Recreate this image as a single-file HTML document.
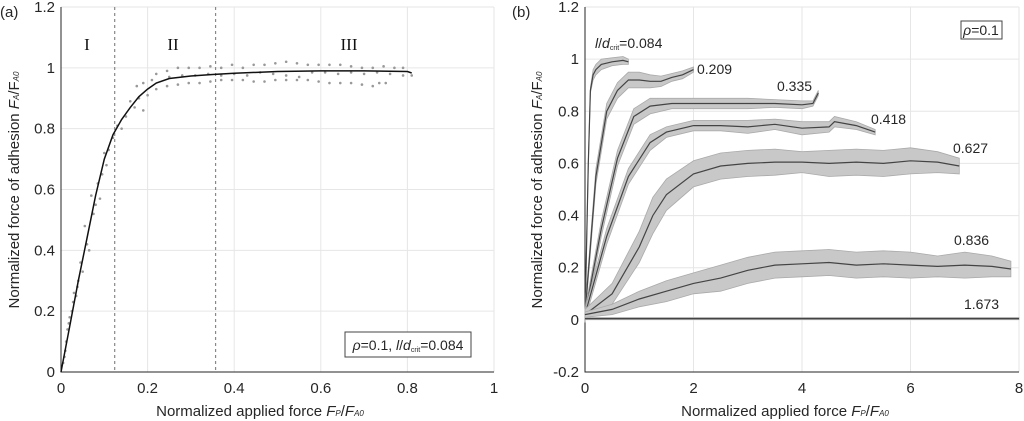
<!DOCTYPE html>
<html><head><meta charset="utf-8"><style>
body{margin:0;background:#fff}
svg{display:block;font-family:"Liberation Sans",sans-serif}
</style></head><body>
<svg id="chart" width="1024" height="421" viewBox="0 0 1024 421" xmlns="http://www.w3.org/2000/svg"></svg>
<script>
// ---- Panel (a) data ----
const aTicksX=[0,0.2,0.4,0.6,0.8,1];
const aTickLabelsX=["0","0.2","0.4","0.6","0.8","1"];
const aTicksY=[0,0.2,0.4,0.6,0.8,1,1.2];
const aTickLabelsY=["0","0.2","0.4","0.6","0.8","1","1.2"];
const aCurveX=[0,0.02,0.04,0.06,0.08,0.1,0.12,0.14,0.16,0.18,0.2,0.22,0.25,0.3,0.35,0.4,0.5,0.6,0.7,0.8,0.81];
const aCurveY=[0,0.15,0.3,0.44,0.58,0.7,0.78,0.83,0.87,0.905,0.93,0.95,0.965,0.973,0.978,0.982,0.988,0.99,0.99,0.988,0.983];
const aRiseX=[0.005,0.01,0.012,0.015,0.02,0.025,0.03,0.035,0.04,0.045,0.05,0.055,0.06,0.065,0.07,0.075,0.08,0.085,0.09,0.095,0.1,0.105,0.11,0.12,0.13,0.14,0.15,0.16,0.17,0.175,0.18,0.19,0.2,0.19,0.21,0.008,0.018,0.028,0.038];
const aRiseY=[0.03,0.07,0.1,0.14,0.18,0.2,0.26,0.25,0.3,0.36,0.33,0.48,0.42,0.4,0.58,0.52,0.55,0.62,0.57,0.65,0.72,0.68,0.73,0.77,0.81,0.8,0.84,0.89,0.87,0.94,0.9,0.95,0.91,0.86,0.96,0.05,0.16,0.23,0.28];
const aUpperX=[0.22,0.245,0.27,0.295,0.32,0.345,0.37,0.395,0.42,0.445,0.47,0.495,0.52,0.545,0.57,0.595,0.62,0.645,0.67,0.695,0.72,0.745,0.77,0.79];
const aUpperY=[0.98,0.99,1.0,1.0,1.0,1.005,1.0,1.01,1.0,1.01,1.01,1.015,1.02,1.015,1.01,1.01,1.01,1.01,1.005,1.0,1.0,1.005,1.0,1.0];
const aLowerX=[0.22,0.245,0.27,0.295,0.32,0.345,0.37,0.395,0.42,0.445,0.47,0.495,0.52,0.545,0.57,0.595,0.62,0.645,0.67,0.695,0.72,0.735,0.75];
const aLowerY=[0.93,0.94,0.945,0.95,0.95,0.955,0.96,0.96,0.96,0.955,0.955,0.96,0.96,0.96,0.96,0.955,0.95,0.95,0.95,0.945,0.94,0.95,0.95];
const aMidX=[0.25,0.28,0.31,0.34,0.37,0.4,0.43,0.46,0.49,0.52,0.55,0.58,0.61,0.64,0.67,0.7,0.73,0.76,0.79,0.81];
const aMidY=[0.97,0.975,0.975,0.98,0.975,0.98,0.975,0.985,0.98,0.975,0.97,0.985,0.985,0.98,0.985,0.98,0.985,0.98,0.975,0.975];
const aRegionX=[0.124,0.357];
// ---- Panel (b) data ----
const bTicksX=[0,2,4,6,8];
const bTickLabelsX=["0","2","4","6","8"];
const bTicksY=[-0.2,0,0.2,0.4,0.6,0.8,1,1.2];
const bTickLabelsY=["-0.2","0","0.2","0.4","0.6","0.8","1","1.2"];
const s084X=[0,0.06,0.1,0.15,0.2,0.3,0.5,0.7,0.8];
const s084Y=[0,0.6,0.88,0.94,0.96,0.98,0.99,0.995,0.99];
const s084W=[.01,.01,.01,.02,.02,.02,.015,.015,.01];
const s209X=[0,0.2,0.4,0.6,0.8,1.0,1.2,1.4,1.6,1.8,2.0];
const s209Y=[.02,.55,.8,.88,.92,.92,.915,.915,.93,.94,.96];
const s209W=[.02,.03,.03,.03,.03,.03,.025,.02,.015,.015,.01];
const s335X=[0,.3,.6,.9,1.2,1.6,2,2.5,3,3.5,4,4.2,4.3];
const s335Y=[.02,.35,.62,.78,.82,.83,.83,.83,.83,.83,.825,.83,.87];
const s335W=[.02,.03,.03,.03,.03,.02,.02,.02,.02,.015,.015,.01,.01];
const s418X=[0,.4,.8,1.2,1.5,2,2.5,3,3.5,4,4.5,4.6,5,5.35];
const s418Y=[.02,.32,.55,.68,.72,.745,.745,.74,.75,.735,.74,.76,.745,.72];
const s418W=[.02,.03,.03,.03,.02,.02,.02,.025,.02,.025,.02,.02,.015,.01];
const s627X=[0,.5,1,1.25,1.5,2,2.5,3,3.5,4,4.5,5,5.5,6,6.5,6.9];
const s627Y=[.02,.1,.28,.4,.48,.56,.59,.6,.605,.605,.6,.605,.6,.61,.605,.59];
const s627W=[.02,.04,.06,.07,.06,.05,.05,.05,.05,.04,.05,.05,.05,.05,.04,.03];
const s836X=[0,.5,1,1.5,2,2.5,3,3.5,4,4.5,5,5.5,6,6.5,7,7.5,7.85];
const s836Y=[.02,.04,.08,.11,.14,.16,.19,.21,.215,.22,.21,.215,.21,.205,.21,.205,.195];
const s836W=[.01,.02,.03,.04,.04,.05,.05,.05,.05,.05,.05,.05,.05,.04,.05,.04,.03];
const s1673X=[0,8];
const s1673Y=[.005,.005];
const s1673W=[.004,.004];
const seriesNames=["0.084","0.209","0.335","0.418","0.627","0.836","1.673"];

const NS="http://www.w3.org/2000/svg";
const svg=document.getElementById('chart');
function mk(tag,attrs,parent,txt){const e=document.createElementNS(NS,tag);for(const k in attrs)e.setAttribute(k,attrs[k]);if(txt!==undefined)e.textContent=txt;(parent||svg).appendChild(e);return e;}
const ax=v=>61+v*433, ay=v=>372-v*(365/1.2);
const bx=v=>585+v*54.25, by=v=>372-(v+0.2)*(365/1.4);

function panel(id,xf,yf,tx,txl,ty,tyl,x0,x1,y0,y1){
  const g=mk('g',{});
  
  
  tx.forEach((t,i)=>{const l=mk('line',{x1:xf(t),x2:xf(t),y1:y0,y2:y1,stroke:'#e6e6e6','stroke-width':1},g);
    
    const tl=mk('text',{x:xf(t),y:y0+21,'font-size':15,'text-anchor':'middle',fill:'#262626'},g,txl[i]);
    });
  ty.forEach((t,i)=>{const l=mk('line',{x1:x0,x2:x1,y1:yf(t),y2:yf(t),stroke:'#e6e6e6','stroke-width':1},g);
    
    const tl=mk('text',{x:x0-6,y:yf(t)+5,'font-size':15,'text-anchor':'end',fill:'#262626'},g,tyl[i]);
    });
  const a=mk('path',{d:`M${x0},${y1}V${y0}H${x1}`,fill:'none',stroke:'#262626','stroke-width':1},g);
  
  return g;
}
const ga=panel('panel-a',ax,ay,aTicksX,aTickLabelsX,aTicksY,aTickLabelsY,61,494,372,7);
const gb=panel('panel-b',bx,by,bTicksX,bTickLabelsX,bTicksY,bTickLabelsY,585,1019,372,7);

aRegionX.forEach(v=>{const l=mk('line',{x1:ax(v),x2:ax(v),y1:7,y2:372,stroke:'#888','stroke-width':1.2,'stroke-dasharray':'3,3'},ga);
  });
[[aRiseX,aRiseY],[aUpperX,aUpperY],[aLowerX,aLowerY],[aMidX,aMidY]].forEach(([X,Y])=>{
  X.forEach((x,i)=>{const c=mk('circle',{cx:ax(x),cy:ay(Y[i]),r:1.3,fill:'#999'},ga);
    });});
const ca=mk('path',{d:aCurveX.map((x,i)=>(i?'L':'M')+ax(x).toFixed(1)+','+ay(aCurveY[i]).toFixed(1)).join(''),fill:'none',stroke:'#111','stroke-width':1.5},ga);


const allS=[[s084X,s084Y,s084W],[s209X,s209Y,s209W],[s335X,s335Y,s335W],[s418X,s418Y,s418W],[s627X,s627Y,s627W],[s836X,s836Y,s836W],[s1673X,s1673Y,s1673W]];
allS.forEach(([X,Y,W],k)=>{
  const up=X.map((x,i)=>bx(x).toFixed(1)+','+by(Y[i]+W[i]).toFixed(1));
  const dn=X.map((x,i)=>bx(x).toFixed(1)+','+by(Y[i]-W[i]).toFixed(1)).reverse();
  const b=mk('polygon',{points:up.concat(dn).join(' '),fill:'#c8c8c8',stroke:'#aaa','stroke-width':0.8},gb);
  
  const l=mk('path',{d:X.map((x,i)=>(i?'L':'M')+bx(x).toFixed(1)+','+by(Y[i]).toFixed(1)).join(''),fill:'none',stroke:'#444','stroke-width':1.2},gb);
  
});
</script>
<svg width="1024" height="421" style="position:absolute;left:0;top:0" viewBox="0 0 1024 421" font-family="Liberation Sans,sans-serif" fill="#262626">
  <text x="0" y="17" font-size="15">(a)</text>
  <text x="512" y="17" font-size="15">(b)</text>
  <g font-family="Liberation Serif,serif" font-size="17" text-anchor="middle" fill="#111">
    <text x="87" y="50">I</text>
    <text x="173" y="50">II</text>
    <text x="349" y="50">III</text>
  </g>
  <text x="260" y="416" font-size="15" text-anchor="middle">Normalized applied force <tspan font-style="italic">F</tspan><tspan font-size="8" font-style="italic">P</tspan>/<tspan font-style="italic">F</tspan><tspan font-size="8" font-style="italic">A0</tspan></text>
  <text transform="translate(19,190) rotate(-90)" font-size="15" text-anchor="middle">Normalized force of adhesion <tspan font-style="italic">F</tspan><tspan font-size="8" font-style="italic">A</tspan>/F<tspan font-size="8" font-style="italic">A0</tspan></text>
  <text x="785" y="416" font-size="15" text-anchor="middle">Normalized applied force <tspan font-style="italic">F</tspan><tspan font-size="8" font-style="italic">P</tspan>/<tspan font-style="italic">F</tspan><tspan font-size="8" font-style="italic">A0</tspan></text>
  <text transform="translate(542,190) rotate(-90)" font-size="15" text-anchor="middle">Normalized force of adhesion <tspan font-style="italic">F</tspan><tspan font-size="8" font-style="italic">A</tspan>/F<tspan font-size="8" font-style="italic">A0</tspan></text>
  <rect x="345" y="332" width="126" height="25" fill="#fff" stroke="#444"/>
  <text x="408" y="350" font-size="14" text-anchor="middle"><tspan font-style="italic">ρ</tspan>=0.1, <tspan font-style="italic">l</tspan>/<tspan font-style="italic">d</tspan><tspan font-size="7" dy="2">crit</tspan><tspan dy="-2">=0.084</tspan></text>
  <rect x="961" y="21" width="41" height="18" fill="#fff" stroke="#444"/>
  <text x="981" y="35" font-size="14" text-anchor="middle"><tspan font-style="italic">ρ</tspan>=0.1</text>
  <g font-size="14">
    <text x="595" y="48"><tspan font-style="italic">l</tspan>/<tspan font-style="italic">d</tspan><tspan font-size="7" dy="2">crit</tspan><tspan dy="-2">=0.084</tspan></text>
    <text x="697" y="74">0.209</text>
    <text x="777" y="91">0.335</text>
    <text x="871" y="124">0.418</text>
    <text x="953" y="153">0.627</text>
    <text x="954" y="245">0.836</text>
    <text x="964" y="309">1.673</text>
  </g>
</svg>
</body></html>
